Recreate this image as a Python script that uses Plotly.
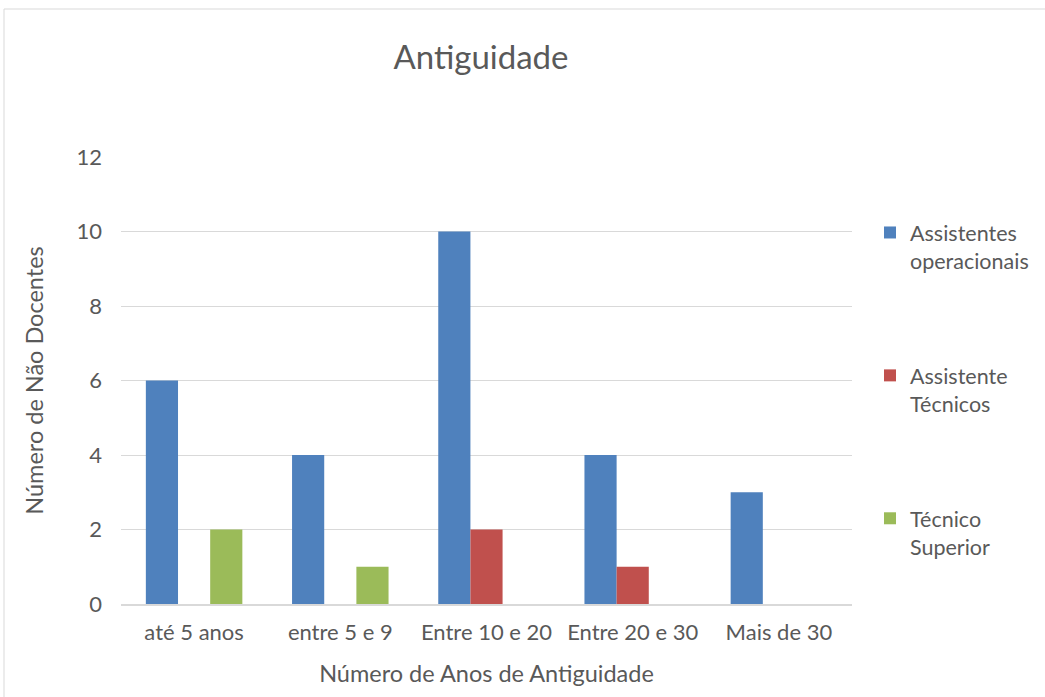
import plotly.graph_objects as go

categories = ["até 5 anos", "entre 5 e 9", "Entre 10 e 20", "Entre 20 e 30", "Mais de 30"]
assistentes_operacionais = [6, 4, 10, 4, 3]
assistente_tecnicos = [0, 0, 2, 1, 0]
tecnico_superior = [2, 1, 0, 0, 0]
y_ticks = [0, 2, 4, 6, 8, 10, 12]

FONT = "Lato"
TEXT = "#595959"

# plot area in pixels
L, R, T, B = 121, 852, 157, 604
W, H = R - L, B - T

series = [
    ("Assistentes<br>operacionais", assistentes_operacionais, "#4f81bd", "g1"),
    ("Assistente<br>Técnicos", assistente_tecnicos, "#c0504d", "g2"),
    ("Técnico<br>Superior", tecnico_superior, "#9bbb59", "g3"),
]

fig = go.Figure()
for name, vals, color, grp in series:
    fig.add_trace(go.Bar(
        x=categories, y=vals, name=name, marker_color=color,
        marker_line_width=0, legendgroup=grp,
    ))

fig.update_layout(
    width=1045, height=697,
    paper_bgcolor="white", plot_bgcolor="white",
    margin=dict(l=L, r=1045 - R, t=T, b=697 - B, autoexpand=False),
    barmode="group", bargap=0.34, bargroupgap=0,
    font=dict(family=FONT, color=TEXT, size=22),
    title=dict(text="Antiguidade", x=481 / 1045, xanchor="center",
               y=1 - 57 / 697, yanchor="middle",
               font=dict(size=33, color=TEXT, family=FONT)),
    legend=dict(x=(870 - L) / W, xanchor="left", y=(B - 212) / H, yanchor="top",
                traceorder="grouped", tracegroupgap=84, valign="top",
                font=dict(size=21.5, color=TEXT, family=FONT),
                itemwidth=30),
    xaxis=dict(showgrid=False, showline=True, linecolor="#d9d9d9", linewidth=2,
               ticks="", tickfont=dict(size=22), ticklabelstandoff=8,
               title=dict(text="Número de Anos de Antiguidade", font=dict(size=23.5), standoff=21)),
    yaxis=dict(range=[0, 12], tickvals=y_ticks, showgrid=True, gridcolor="#d9d9d9",
               gridwidth=1.3, zeroline=False, showline=False, ticks="",
               ticklabelstandoff=18, tickfont=dict(size=22),
               title=dict(text="Número de Não Docentes", font=dict(size=23.5), standoff=26)),
    shapes=[dict(type="rect", xref="paper", yref="paper",
                 x0=(4 - L) / W, x1=(1050 - L) / W, y0=(B - 705) / H, y1=(B - 9) / H,
                 line=dict(color="#d9d9d9", width=1), layer="below")],
)

fig.write_html("out.html")
